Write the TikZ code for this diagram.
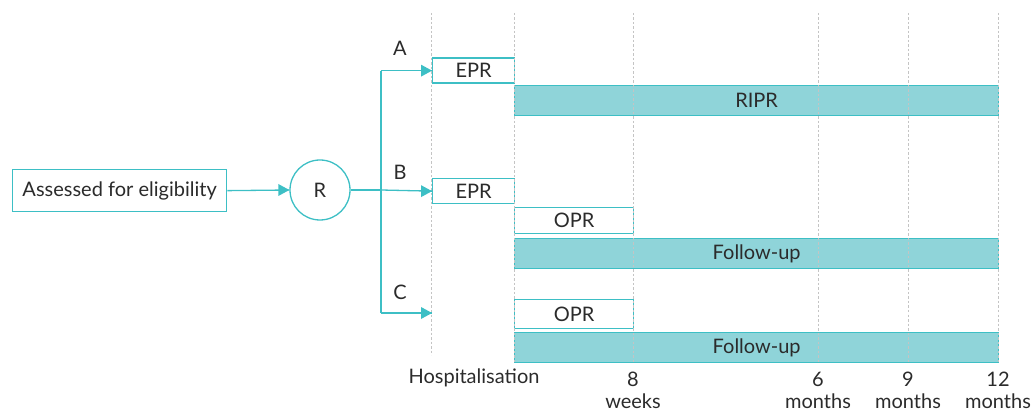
\documentclass[tikz,border=0pt]{standalone}
\usepackage{fontspec}
\setmainfont{Lato}
\definecolor{teal1}{HTML}{3DBFC5}
\definecolor{tealfill}{HTML}{8FD4D9}
\definecolor{txt}{HTML}{2B2B2B}
\definecolor{grid}{HTML}{C4C4C4}
\tikzset{
  every node/.style={text=txt, font=\fontsize{20}{23}\selectfont},
  whitebox/.style={draw=teal1, line width=1.3pt, fill=white, inner sep=0pt, anchor=north west},
  bar/.style={draw=teal1, line width=1.3pt, fill=tealfill, inner sep=0pt, anchor=north west},
  conn/.style={draw=teal1, line width=1.3pt},
  tipfill/.style={fill=teal1},
  gridline/.style={draw=grid, line width=1pt, dash pattern=on 2.5pt off 2pt},
}
\begin{document}
\begin{tikzpicture}[x=1pt,y=-1pt]
\useasboundingbox (0,0) rectangle (1032,411);
% boxes
\node[whitebox, minimum width=214pt, minimum height=42pt] (assess) at (12,169) {Assessed for eligibility};
\node[circle, draw=teal1, line width=1.3pt, minimum size=60pt, inner sep=0pt] (R) at (320,190) {R};
\node[whitebox, minimum width=82pt, minimum height=25pt] (eprA) at (432,57.5) {EPR};
\node[bar, minimum width=484pt, minimum height=30pt] (ripr) at (514,85) {RIPR};
\node[whitebox, minimum width=82pt, minimum height=25pt] (eprB) at (432,178) {EPR};
\node[whitebox, minimum width=119pt, minimum height=26pt] (oprB) at (514,207) {OPR};
\node[bar, minimum width=484pt, minimum height=30pt] (fuB) at (514,238) {Follow-up};
\node[whitebox, minimum width=119pt, minimum height=29pt] (oprC) at (514,299) {OPR};
\node[bar, minimum width=484pt, minimum height=30pt] (fuC) at (514,332) {Follow-up};
\coordinate (cC) at (432,313);
\coordinate (split) at (381,190);
% grid lines
\foreach \x/\b in {431/355, 514/362, 633/362, 818/362, 908/362, 998/362}
  \draw[gridline] (\x,13) -- (\x,\b);
% connectors
\draw[conn] (assess.east) -- (R.west);
\draw[conn] (R.east) -- (split);
\draw[conn] (split |- eprA.west) -- (split |- cC);
\draw[conn] (split |- eprA.west) -- (eprA.west);
\draw[conn] (split) -- (eprB.west);
\draw[conn] (split |- cC) -- (cC);
% arrow tips
\foreach \t in {R.west, eprA.west, eprB.west, cC}
  \fill[tipfill] (\t) -- ++(-11,-6) -- ++(0,12) -- cycle;
% labels
\node (lA) at (400,48) {A};
\node (lB) at (400,172) {B};
\node (lC) at (400,292) {C};
\node (hosp) at (474,378) {Hospitalisation};
\node[align=center] (w8) at (633,390) {8\\[-1pt]weeks};
\node[align=center] (m6) at (818,390) {6\\[-1pt]months};
\node[align=center] (m9) at (908,390) {9\\[-1pt]months};
\node[align=center] (m12) at (998,390) {12\\[-1pt]months};
\end{tikzpicture}
\end{document}
